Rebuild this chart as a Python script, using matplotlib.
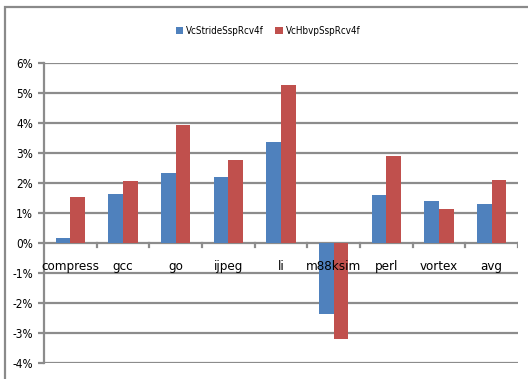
import matplotlib
matplotlib.use("Agg")
import matplotlib.pyplot as plt
import numpy as np
from matplotlib.patches import Rectangle

categories = ["compress", "gcc", "go", "ijpeg", "li", "m88ksim", "perl", "vortex", "avg"]
stride = [0.18, 1.64, 2.34, 2.21, 3.38, -2.35, 1.59, 1.39, 1.29]
hbvp = [1.55, 2.08, 3.94, 2.78, 5.28, -3.19, 2.90, 1.12, 2.09]
series_names = ["VcStrideSspRcv4f", "VcHbvpSspRcv4f"]
yticks = [-4, -3, -2, -1, 0, 1, 2, 3, 4, 5, 6]

plt.rcParams['font.family'] = ['DejaVu Sans']
plt.rcParams['font.stretch'] = 'condensed'

W, H = 528, 379
fig = plt.figure(figsize=(W / 100, H / 100), dpi=100)
fig.patch.set_facecolor("white")

# outer chart frame
fig.add_artist(Rectangle((5 / W, -0.1), 1.2, 1 - 7 / H + 0.1, transform=fig.transFigure,
                         fill=False, edgecolor="#8a8a8a", linewidth=1.6))

ax = fig.add_axes([44 / W, 1 - 363 / H, (518 - 44) / W, (363 - 63) / H])
blue = "#4f81bd"
red = "#c0504d"
grid = "#8c8c8c"

x = np.arange(len(categories))
bw = 0.28
ax.bar(x - bw / 2, stride, bw, color=blue, label=series_names[0], zorder=3)
ax.bar(x + bw / 2, hbvp, bw, color=red, label=series_names[1], zorder=3)

ax.set_xlim(-0.5, len(categories) - 0.5)
ax.set_ylim(-4, 6)
ax.set_yticks(yticks)
ax.set_yticklabels([f"{v}%" for v in yticks], fontsize=8.5)
ax.tick_params(axis="y", length=4, color=grid, width=1.6, pad=4)
for v in yticks:
    ax.axhline(v, color=grid, linewidth=1.6, zorder=1)

for s in ["top", "right", "bottom"]:
    ax.spines[s].set_visible(False)
ax.spines["left"].set_color(grid)
ax.spines["left"].set_linewidth(1.6)

ax.set_xticks([])
# category boundary ticks hanging from the zero line
for b in np.arange(0.5, len(categories) - 0.5, 1.0):
    ax.plot([b, b], [0, -0.13], color=grid, linewidth=1.6, zorder=2, clip_on=False)
ax.plot([len(categories) - 0.5] * 2, [0, -0.13], color=grid, linewidth=1.6, zorder=2)
for i, c in enumerate(categories):
    ax.text(i, -0.78, c, ha="center", va="center", fontsize=9.5, zorder=4)

fig.legend(handles=ax.get_legend_handles_labels()[0], labels=series_names,
           loc="center", bbox_to_anchor=(268 / W, 1 - 31 / H), ncol=2, frameon=False,
           fontsize=7, handlelength=0.75, handleheight=0.75, handletextpad=0.3,
           columnspacing=1.2)

fig.savefig("out.png", dpi=100, facecolor="white")
